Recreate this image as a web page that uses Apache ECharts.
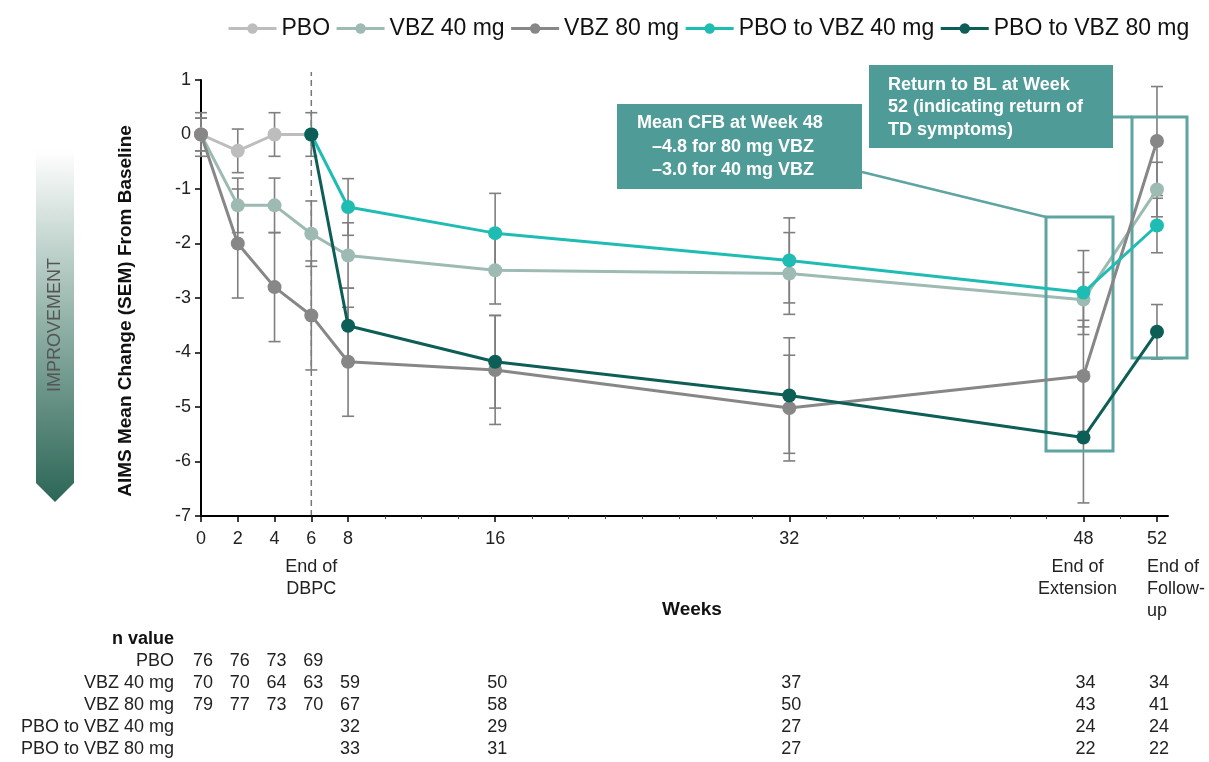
<!DOCTYPE html>
<html><head><meta charset="utf-8">
<script src="https://cdn.jsdelivr.net/npm/echarts@6/dist/echarts.min.js"></script>
<style>html,body{margin:0;padding:0;background:#fff}#c{width:1209px;height:762px}</style>
</head><body><div id="c"></div>
<script>
// ---------- data ----------
const weeks = [0, 2, 4, 6, 8, 16, 32, 48, 52];
const majorTicks = [0, 2, 4, 6, 8, 16, 32, 48, 52];
const minorTicks = [10, 12, 14, 18, 20, 22, 24, 26, 28, 30, 34, 36, 38, 40, 42, 44, 46, 50];
const yTicks = [-7, -6, -5, -4, -3, -2, -1, 0, 1];

const pboWeeks = [0, 2, 4, 6];
const pboMean = [0, -0.3, 0, 0];
const pboSem = [0.4, 0.4, 0.4, 0.4];

const vbz40Mean = [0, -1.3, -1.3, -1.82, -2.22, -2.49, -2.55, -3.03, -1.01];
const vbz40Sem = [0.3, 0.5, 0.5, 0.6, 0.6, 0.62, 0.75, 0.5, 0.5];

const vbz80Mean = [0, -2.0, -2.8, -3.32, -4.17, -4.32, -5.02, -4.43, -0.12];
const vbz80Sem = [0.3, 1.0, 1.0, 1.0, 1.0, 1.0, 0.97, 1.02, 1.0];

const switchWeeks = [6, 8, 16, 32, 48, 52];
const p40Mean = [0, -1.33, -1.81, -2.31, -2.9, -1.67];
const p40Sem = [null, 0.52, 0.73, 0.78, 0.77, 0.5];
const p80Mean = [0, -3.51, -4.17, -4.79, -5.56, -3.62];
const p80Sem = [null, 0.69, 0.85, 1.06, 1.2, 0.5];

const seriesNames = ['PBO', 'VBZ 40 mg', 'VBZ 80 mg', 'PBO to VBZ 40 mg', 'PBO to VBZ 80 mg'];
const seriesColors = ['#bdbdbd', '#9dbab3', '#878787', '#1fbcb3', '#0d5e57'];

// n values table
const nRowLabels = ['PBO', 'VBZ 40 mg', 'VBZ 80 mg', 'PBO to VBZ 40 mg', 'PBO to VBZ 80 mg'];
const nPBO = [76, 76, 73, 69, null, null, null, null, null];
const nVBZ40 = [70, 70, 64, 63, 59, 50, 37, 34, 34];
const nVBZ80 = [79, 77, 73, 70, 67, 58, 50, 43, 41];
const nP40 = [null, null, null, null, 32, 29, 27, 24, 24];
const nP80 = [null, null, null, null, 33, 31, 27, 22, 22];

const phaseLabels = [
  {week: 6, text: 'End of\nDBPC', align: 'center', dx: 0},
  {week: 48, text: 'End of\nExtension', align: 'center', dx: -6},
  {week: 52, text: 'End of\nFollow-\nup', align: 'left', dx: -10}
];

// ---------- build ----------
const FONT = '"Liberation Sans", Arial, sans-serif';
const chart = echarts.init(document.getElementById('c'), null, {renderer: 'canvas'});

function pairs(xs, ys) { return xs.map((x, i) => [x, ys[i]]); }
function errData(xs, ys, sems) {
  const out = [];
  xs.forEach((x, i) => { if (sems[i] != null) out.push([x, ys[i] - sems[i], ys[i] + sems[i]]); });
  return out;
}
const groups = [
  [pboWeeks, pboMean, pboSem],
  [weeks, vbz40Mean, vbz40Sem],
  [weeks, vbz80Mean, vbz80Sem],
  [switchWeeks, p40Mean, p40Sem],
  [switchWeeks, p80Mean, p80Sem]
];

function renderErr(params, api) {
  const x = api.value(0);
  const lo = api.coord([x, api.value(1)]);
  const hi = api.coord([x, api.value(2)]);
  const w = 6;
  const st = {stroke: '#7f7f7f', lineWidth: 1.6};
  return {type: 'group', children: [
    {type: 'line', shape: {x1: lo[0], y1: lo[1], x2: hi[0], y2: hi[1]}, style: st},
    {type: 'line', shape: {x1: lo[0] - w, y1: lo[1], x2: lo[0] + w, y2: lo[1]}, style: st},
    {type: 'line', shape: {x1: hi[0] - w, y1: hi[1], x2: hi[0] + w, y2: hi[1]}, style: st}
  ]};
}

const series = [];
groups.forEach((g, i) => {
  series.push({
    name: 'err' + i, type: 'custom', renderItem: renderErr, z: 1,
    data: errData(g[0], g[1], g[2]), encode: {x: 0, y: [1, 2]}, silent: true
  });
});
groups.forEach((g, i) => {
  series.push({
    name: seriesNames[i], type: 'line', z: 3 + i,
    data: pairs(g[0], g[1]),
    symbol: 'circle', symbolSize: 14, showSymbol: true,
    lineStyle: {width: 3, color: seriesColors[i]},
    itemStyle: {color: seriesColors[i]},
    animation: false
  });
});

const option = {
  animation: false,
  textStyle: {fontFamily: FONT},
  legend: {
    data: seriesNames, top: 12, left: 222,
    itemWidth: 48, itemHeight: 13, itemGap: 5,
    lineStyle: {width: 3},
    textStyle: {fontSize: 23, color: '#111', fontFamily: FONT}
  },
  grid: {left: 201, right: 41, top: 80, bottom: 246, containLabel: false},
  xAxis: [{
    type: 'value', min: 0, max: 52.6,
    axisLine: {onZero: false, lineStyle: {color: '#000', width: 2}},
    axisTick: {show: true, inside: false, length: 6, lineStyle: {color: '#000', width: 1.5}, customValues: majorTicks},
    axisLabel: {customValues: majorTicks, fontSize: 18, color: '#222', margin: 14, fontFamily: FONT},
    splitLine: {show: false}
  }, {
    type: 'value', min: 0, max: 52.6, position: 'bottom', gridIndex: 0,
    axisLine: {show: false, onZero: false},
    axisTick: {show: true, inside: false, length: 3, lineStyle: {color: '#444', width: 1}, customValues: minorTicks},
    axisLabel: {show: false},
    splitLine: {show: false}
  }],
  yAxis: {
    type: 'value', min: -7, max: 1, interval: 1,
    axisLine: {show: true, onZero: false, lineStyle: {color: '#000', width: 2}},
    axisTick: {show: true, inside: false, length: 6, lineStyle: {color: '#000', width: 1.5}},
    axisLabel: {fontSize: 18, color: '#222', margin: 10, fontFamily: FONT},
    splitLine: {show: false}
  },
  series: series
};
chart.setOption(option);

// ---------- annotations / text ----------
const P = (x, y) => chart.convertToPixel({xAxisIndex: 0, yAxisIndex: 0}, [x, y]);
const g = [];

// improvement arrow
g.push({type: 'polygon', z: 1,
  shape: {points: [[36, 150], [74, 150], [74, 483], [55, 502], [36, 483]]},
  style: {fill: new echarts.graphic.LinearGradient(0, 0, 0, 1, [
    {offset: 0, color: '#ffffff'}, {offset: 0.5, color: '#8fb0a6'}, {offset: 1, color: '#2c6656'}])}
});
g.push({type: 'text', x: 55, y: 325, rotation: Math.PI / 2, z: 2,
  style: {text: 'IMPROVEMENT', fontSize: 18, fill: '#555', fontFamily: FONT, align: 'center', verticalAlign: 'middle'}});

// y axis title
g.push({type: 'text', x: 126, y: 311, rotation: Math.PI / 2,
  style: {text: 'AIMS Mean Change (SEM) From Baseline', fontSize: 19, fontWeight: 'bold', fill: '#111', fontFamily: FONT, align: 'center', verticalAlign: 'middle'}});

// dashed line at week 6
const d0 = P(6, -7), d1 = P(6, 1);
g.push({type: 'line', z: 0, shape: {x1: d0[0], y1: d0[1], x2: d1[0], y2: d1[1] - 8},
  style: {stroke: '#777', lineWidth: 1.5, lineDash: [6, 4]}});

// phase labels
phaseLabels.forEach(p => {
  const c = P(p.week, -7);
  g.push({type: 'text', x: c[0] + p.dx, y: c[1] + 40,
    style: {text: p.text, fontSize: 18, fill: '#222', fontFamily: FONT, align: p.align, verticalAlign: 'top', lineHeight: 22}});
});
// x axis title
g.push({type: 'text', x: 692, y: 610, style: {text: 'Weeks', fontSize: 19, fontWeight: 'bold', fill: '#111', fontFamily: FONT, align: 'center', verticalAlign: 'middle'}});

// n value table
const rowY = [661, 683, 705, 727, 749];
g.push({type: 'text', x: 174, y: 639, style: {text: 'n value', fontSize: 18, fontWeight: 'bold', fill: '#111', fontFamily: FONT, align: 'right', verticalAlign: 'middle'}});
const nRows = [nPBO, nVBZ40, nVBZ80, nP40, nP80];
nRows.forEach((row, r) => {
  g.push({type: 'text', x: 174, y: rowY[r], style: {text: nRowLabels[r], fontSize: 18, fill: '#222', fontFamily: FONT, align: 'right', verticalAlign: 'middle'}});
  row.forEach((v, i) => {
    if (v == null) return;
    const c = P(weeks[i], 0);
    g.push({type: 'text', x: c[0] + 2, y: rowY[r], style: {text: String(v), fontSize: 18, fill: '#222', fontFamily: FONT, align: 'center', verticalAlign: 'middle'}});
  });
});

// annotation boxes
const teal = '#4f9b97';
const outline = '#5ea4a0';
g.push({type: 'rect', shape: {x: 1046, y: 217, width: 67, height: 234}, style: {fill: 'none', stroke: outline, lineWidth: 3}, z: 5});
g.push({type: 'rect', shape: {x: 1132, y: 117, width: 55, height: 241}, style: {fill: 'none', stroke: outline, lineWidth: 3}, z: 5});
g.push({type: 'polyline', shape: {points: [[862, 172], [1046, 217]]}, style: {stroke: outline, lineWidth: 2.5, fill: 'none'}, z: 5});
g.push({type: 'line', shape: {x1: 1112, y1: 117, x2: 1132, y2: 117}, style: {stroke: outline, lineWidth: 3}, z: 5});

g.push({type: 'rect', shape: {x: 617, y: 104, width: 245, height: 85}, style: {fill: teal}, z: 6});
g.push({type: 'text', x: 637, y: 123, z: 7, style: {text: 'Mean CFB at Week 48', fontSize: 18, fontWeight: 'bold', fill: '#fff', fontFamily: FONT, align: 'left', verticalAlign: 'middle'}});
g.push({type: 'text', x: 652, y: 147, z: 7, style: {text: '\u20134.8 for 80 mg VBZ', fontSize: 18, fontWeight: 'bold', fill: '#fff', fontFamily: FONT, align: 'left', verticalAlign: 'middle'}});
g.push({type: 'text', x: 652, y: 170, z: 7, style: {text: '\u20133.0 for 40 mg VBZ', fontSize: 18, fontWeight: 'bold', fill: '#fff', fontFamily: FONT, align: 'left', verticalAlign: 'middle'}});

g.push({type: 'rect', shape: {x: 869, y: 65, width: 244, height: 83}, style: {fill: teal}, z: 6});
g.push({type: 'text', x: 888, y: 85, z: 7, style: {text: 'Return to BL at Week', fontSize: 18, fontWeight: 'bold', fill: '#fff', fontFamily: FONT, align: 'left', verticalAlign: 'middle'}});
g.push({type: 'text', x: 888, y: 107, z: 7, style: {text: '52 (indicating return of', fontSize: 18, fontWeight: 'bold', fill: '#fff', fontFamily: FONT, align: 'left', verticalAlign: 'middle'}});
g.push({type: 'text', x: 888, y: 130, z: 7, style: {text: 'TD symptoms)', fontSize: 18, fontWeight: 'bold', fill: '#fff', fontFamily: FONT, align: 'left', verticalAlign: 'middle'}});

chart.setOption({graphic: g});
</script></body></html>
